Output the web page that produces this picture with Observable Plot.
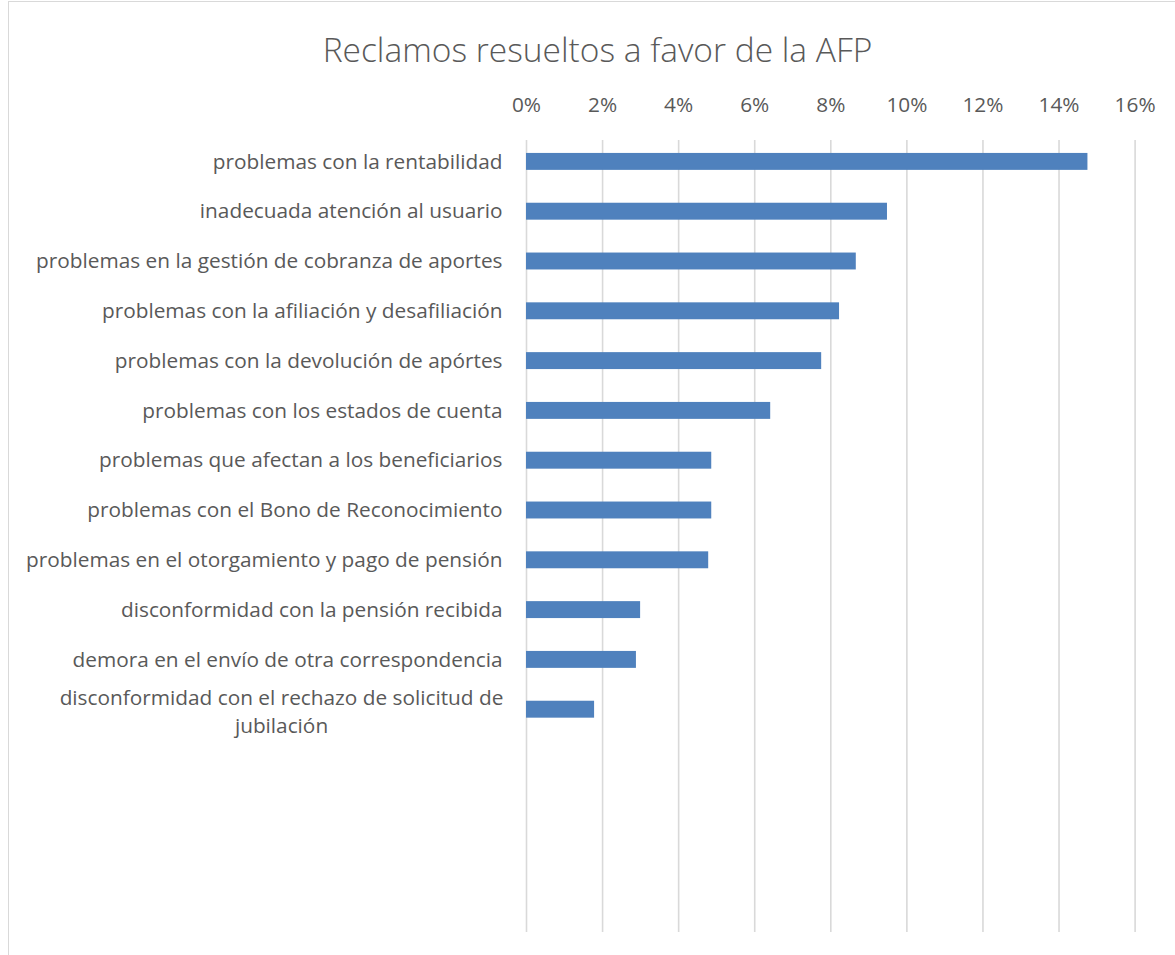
<!DOCTYPE html>
<html>
<head>
<meta charset="utf-8">
<script src="https://cdn.jsdelivr.net/npm/d3@7"></script>
<script src="https://cdn.jsdelivr.net/npm/@observablehq/plot@0.6"></script>
<style>
  html, body { margin: 0; padding: 0; background: #fff; }
  body { width: 1175px; height: 955px; position: relative; overflow: hidden; font-family: "Open Sans", sans-serif; }
  #frame { position: absolute; left: 8px; top: 1px; width: 1175px; height: 960px; border: 1px solid #d9d9d9; box-sizing: border-box; }
  #title { position: absolute; left: 0; top: 29px; width: 1195px; text-align: center; font-size: 33.5px; font-weight: 300; line-height: 40px; color: #595959; font-family: "Open Sans", sans-serif; }
  #chart { position: absolute; left: 0; top: 68px; }
</style>
</head>
<body>
<div id="frame"></div>
<div id="title">Reclamos resueltos a favor de la AFP</div>
<div id="chart"></div>
<script>
const categories = [
  "problemas con la rentabilidad",
  "inadecuada atención al usuario",
  "problemas en la gestión de cobranza de aportes",
  "problemas con la afiliación y desafiliación",
  "problemas con la devolución de apórtes",
  "problemas con los estados de cuenta",
  "problemas que afectan a los beneficiarios",
  "problemas con el Bono de Reconocimiento",
  "problemas en el otorgamiento y pago de pensión",
  "disconformidad con la pensión recibida",
  "demora en el envío de otra correspondencia",
  "disconformidad con el rechazo de solicitud de jubilación"
];
const values = [0.1476, 0.0949, 0.0867, 0.0823, 0.0776, 0.0642, 0.0487, 0.0487, 0.0479, 0.0300, 0.0289, 0.0179];
const xTicks = [0, 0.02, 0.04, 0.06, 0.08, 0.10, 0.12, 0.14, 0.16];
const wrappedLabel = "disconformidad con el rechazo de solicitud de\njubilación";

const data = categories.map((c, i) => ({category: c, value: values[i]}));
const lastCat = categories[categories.length - 1];

const W = 1175, H = 880;
const mL = 526, mR = W - 1134.6, mT = 72, mB = 16;
const step = 49.8;
const y0 = 68.5;
const fs = 20.8;

const plot = Plot.plot({
  width: W,
  height: H,
  marginLeft: mL,
  marginRight: mR,
  marginTop: mT,
  marginBottom: mB,
  style: {fontFamily: "'Open Sans', sans-serif", color: "#595959", background: "transparent"},
  x: {domain: [0, 0.16], ticks: xTicks, tickFormat: d3.format(".0%")},
  y: {domain: categories, range: [y0, y0 + step * categories.length], paddingInner: 0.66, paddingOuter: 0.33, round: false},
  marks: [
    Plot.gridX(xTicks, {stroke: "#d9d9d9", strokeOpacity: 1, strokeWidth: 1.6}),
    Plot.barX(data, {x: "value", y: "category", fill: "#4f81bd"}),
    Plot.axisX({anchor: "top", ticks: xTicks, tickFormat: d3.format(".0%"), tickSize: 0, tickPadding: 29, fontSize: fs, label: null, fill: "#595959"}),
    Plot.axisY({tickSize: 0, tickPadding: 24, fontSize: fs, label: null, fill: "#595959",
      tickFormat: d => d === lastCat ? "" : d}),
    Plot.text([lastCat], {x: () => 0, y: d => d, text: () => wrappedLabel, textAnchor: "middle", dx: -245, fontSize: fs, fill: "#595959", lineHeight: 1.35})
  ]
});
document.getElementById("chart").appendChild(plot);
</script>
</body>
</html>
